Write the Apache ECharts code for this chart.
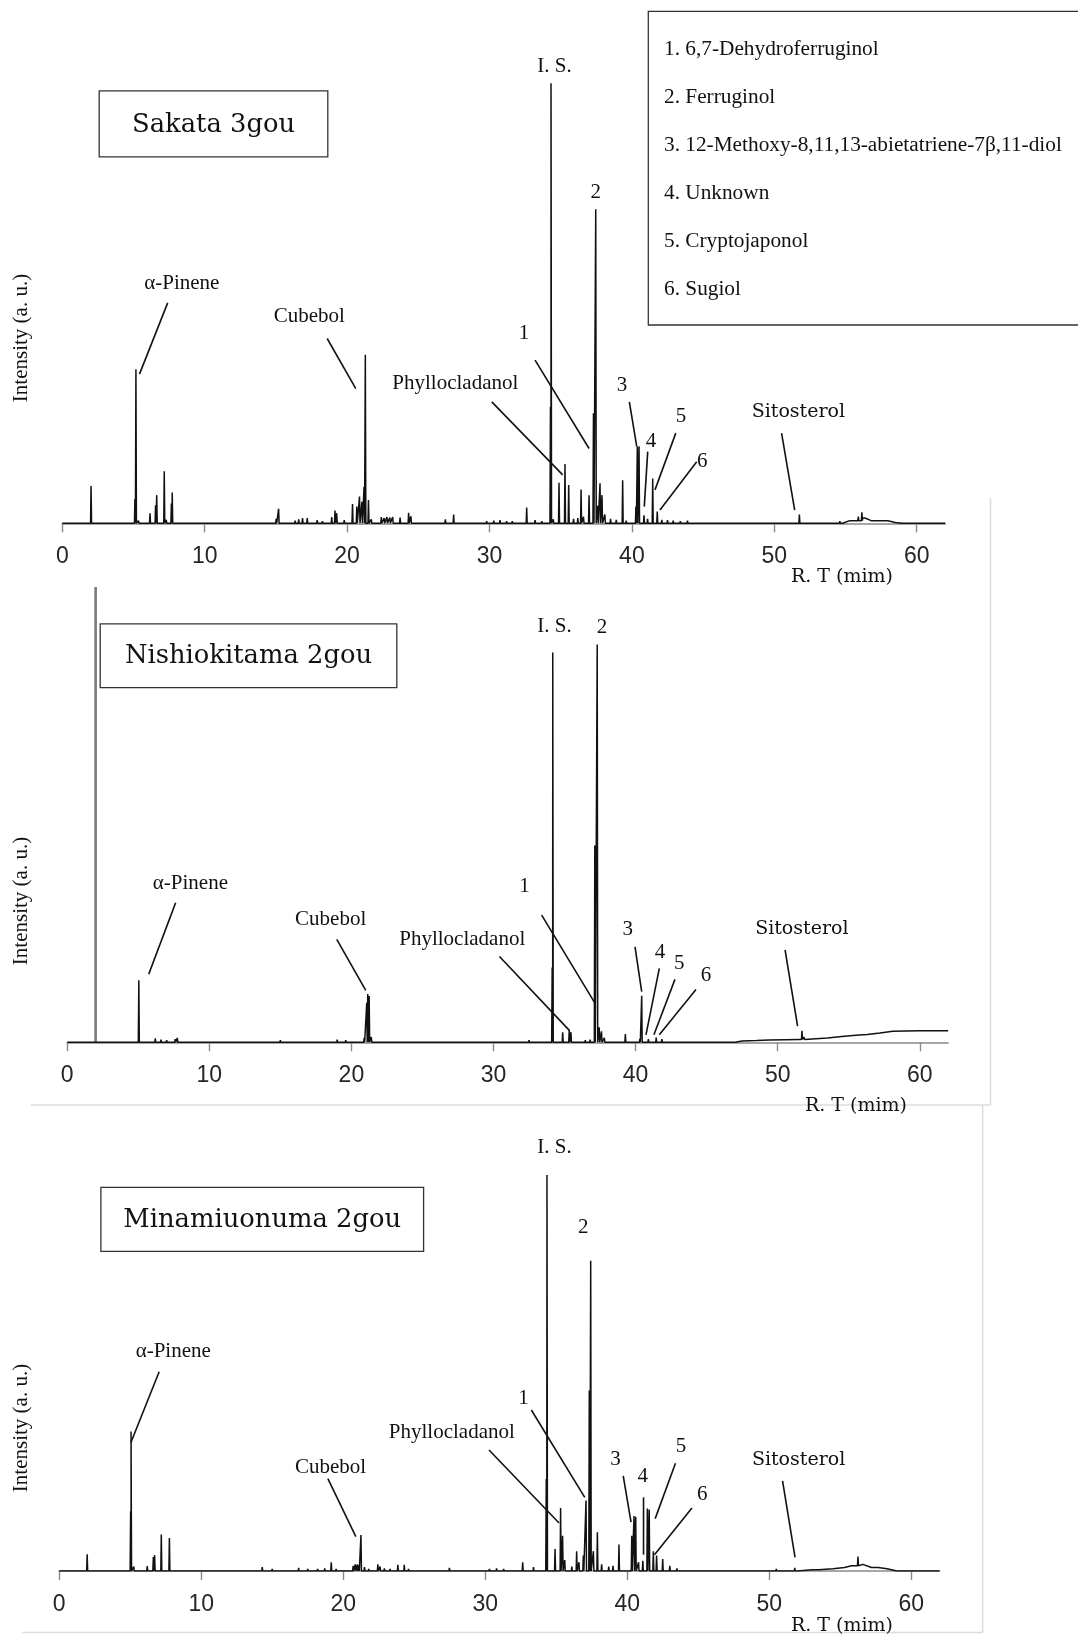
<!DOCTYPE html>
<html>
<head>
<meta charset="utf-8">
<script src="https://cdn.jsdelivr.net/npm/echarts@6/dist/echarts.min.js"></script>
<style>
  html, body { margin: 0; padding: 0; background: #fff; }
  #chart { width: 1078px; height: 1637px; }
</style>
</head>
<body>
<div id="chart"></div>
<script>
// Retention-time axis ticks (min)
const RT_TICKS = [0, 10, 20, 30, 40, 50, 60];

// Sample names and identified compounds
const SAMPLE_NAMES = ['Sakata 3gou', 'Nishiokitama 2gou', 'Minamiuonuma 2gou'];
const COMPOUNDS = [
  '1. 6,7-Dehydroferruginol',
  '2. Ferruginol',
  '3. 12-Methoxy-8,11,13-abietatriene-7\u03b2,11-diol',
  '4. Unknown',
  '5. Cryptojaponol',
  '6. Sugiol'
];

// Sakata 3gou: peaks [retention time (min), intensity (a.u.)]
const SAKATA_PEAKS = [
  [2.02, 8.5], [5.10, 5.5], [5.17, 35.0], [5.35, 0.6], [6.16, 2.3], [6.55, 4.1], [6.63, 6.4],
  [7.16, 11.8], [7.30, 0.8], [7.66, 4.5], [7.72, 7.0], [15.02, 1.0], [15.19, 3.3],
  [16.35, 0.6], [16.6, 0.9], [16.87, 1.2], [17.2, 1.2], [17.9, 0.7], [18.27, 0.5],
  [18.92, 1.4], [19.15, 2.9], [19.27, 2.3], [19.8, 0.7], [20.38, 4.4], [20.68, 3.8],
  [20.87, 6.1], [21.04, 4.9], [21.19, 8.3], [21.28, 38.3], [21.5, 5.3], [21.7, 0.9],
  [22.4, 1.4], [22.6, 1.2], [22.8, 1.4], [23.0, 1.3], [23.2, 1.4], [23.72, 1.3],
  [24.32, 2.4], [24.48, 1.6], [25.6, 0.4], [26.9, 0.9], [27.48, 2.0],
  [29.3, 0.3], [29.8, 0.5], [30.3, 0.6], [30.74, 0.75], [31.2, 0.5], [31.6, 0.5], [32.1, 0.4],
  [32.61, 3.6], [33.2, 0.7], [33.67, 0.5], [34.28, 26.5], [34.32, 100], [34.48, 0.9],
  [34.88, 9.2], [35.3, 13.5], [35.56, 8.7], [35.9, 1.0], [36.2, 1.2], [36.43, 7.7],
  [36.6, 1.5], [36.99, 6.4], [37.30, 25.0], [37.46, 71.4], [37.6, 4.0], [37.76, 9.1],
  [37.9, 6.4], [38.1, 2.0], [38.5, 1.0], [38.9, 0.8], [39.35, 9.8], [39.6, 0.6],
  [40.28, 3.8], [40.38, 17.4], [40.5, 17.5], [40.85, 1.8], [41.1, 1.0], [41.46, 10.2],
  [41.78, 2.7], [42.1, 0.8], [42.5, 0.7], [42.9, 0.6], [43.4, 0.5], [43.9, 0.6],
  [49.2, 0.3], [50.0, 0.4], [50.5, 0.3], [51.76, 2.0], [52.8, 0.3], [53.7, 0.4],
  [54.6, 0.5], [55.9, 1.5], [56.15, 2.5], [56.4, 1.6], [57.3, 0.6], [58.0, 0.4]
];
// Sakata 3gou: baseline level [retention time, intensity]
const SAKATA_BASE = [
  [0, 0], [44.5, 0], [54.8, 0], [55.3, 0.6], [56.2, 1.2], [56.8, 0.6], [58.5, 0.2], [59, 0], [62, 0]
];

// Nishiokitama 2gou: solvent front (off scale) and peaks
const NISHIO_SOLVENT = [2.0, 103.5];
const NISHIO_PEAKS = [
  [5.04, 14.1], [6.2, 0.9], [6.6, 0.6], [7.0, 0.5], [7.6, 0.7], [7.75, 1.0], [15.0, 0.5],
  [19.0, 0.6], [19.6, 0.5], [20.3, 0.4], [20.9, 1.0], [21.08, 9.0], [21.15, 11.0],
  [21.25, 10.5], [21.4, 1.2], [29.3, 0.3], [31.0, 0.4], [32.5, 0.5],
  [34.13, 17.0], [34.17, 88.6], [34.87, 2.3], [35.33, 2.7], [35.45, 2.3], [36.46, 0.5],
  [36.8, 0.6], [37.13, 44.7], [37.3, 90.4], [37.44, 3.4], [37.6, 2.5], [37.8, 1.0],
  [39.28, 1.9], [40.3, 0.8], [40.43, 10.6], [40.9, 0.7], [41.45, 1.1], [41.85, 0.7],
  [51.71, 2.6], [51.85, 1.2]
];
const NISHIO_BASE = [
  [0, 0], [47.0, 0], [47.5, 0.3], [48.5, 0.4], [49.4, 0.5], [50.5, 0.6], [51.5, 0.65],
  [52.0, 0.75], [53.5, 1.0], [54.5, 1.3], [55.5, 1.6], [56.3, 1.8], [57.2, 2.1],
  [58.1, 2.5], [60.0, 2.6], [62.0, 2.65]
];

// Minamiuonuma 2gou
const MINAMI_PEAKS = [
  [1.97, 3.8], [5.03, 13.6], [5.06, 31.7], [5.25, 1.0], [6.2, 1.1], [6.63, 3.2], [6.72, 3.6],
  [7.19, 8.3], [7.76, 7.5], [14.3, 0.9], [15.0, 0.5], [16.5, 0.4], [16.86, 0.7], [17.5, 0.5],
  [18.2, 0.5], [18.7, 0.6], [19.16, 2.0], [19.5, 0.5], [20.7, 1.2], [20.85, 1.5], [21.0, 1.5],
  [21.1, 1.3], [21.25, 8.2], [21.5, 0.9], [21.8, 0.5], [22.44, 1.5], [22.6, 1.0], [22.9, 0.6],
  [23.3, 0.5], [23.85, 1.4], [24.3, 1.4], [24.6, 0.5], [27.48, 0.7], [29.6, 0.4], [30.3, 0.5],
  [30.8, 0.6], [31.3, 0.5], [31.8, 0.4], [32.64, 2.0], [33.4, 0.9], [34.3, 20.9], [34.35, 90.0],
  [34.92, 5.0], [35.31, 14.3], [35.45, 8.0], [35.6, 2.5], [36.1, 1.0], [36.44, 4.5], [36.6, 2.0],
  [36.91, 3.5], [37.1, 16.0], [37.33, 41.0], [37.43, 70.5], [37.62, 4.5], [37.9, 8.8],
  [38.2, 1.5], [38.7, 1.0], [39.0, 1.2], [39.42, 6.0], [40.32, 8.0], [40.48, 12.5],
  [40.6, 12.3], [40.8, 2.0], [41.1, 2.3], [41.42, 14.2], [41.55, 14.0], [41.84, 4.5],
  [42.07, 3.5], [42.5, 2.7], [43.0, 1.2], [43.5, 0.6], [44.3, 0.4], [45.8, 0.3],
  [50.5, 0.5], [51.0, 0.4], [51.8, 0.7], [53.5, 0.6], [56.25, 3.3], [57.7, 1.1]
];
const MINAMI_BASE = [
  [0, 0], [52.0, 0], [53.0, 0.3], [54.5, 0.5], [55.3, 0.8], [55.8, 1.2], [56.6, 1.5],
  [57.2, 0.8], [58.3, 0.5], [59.0, 0], [62.0, 0]
];

// Peak labels [text, rt, intensity] and leader lines [rt1, y1, rt2, y2] per panel
const ANNOTATIONS = [
  {
    labels: [['I. S.', 34.56, 103.9], ['2', 37.46, 75.1], ['1', 32.42, 43.25], ['3', 39.30, 31.3],
             ['4', 41.34, 18.5], ['5', 43.44, 24.2], ['6', 44.94, 14.1], ['Sitosterol', 51.69, 25.2],
             ['\u03b1-Pinene', 8.39, 54.4], ['Cubebol', 17.35, 47.1], ['Phyllocladanol', 27.6, 31.7]],
    leaders: [[7.40, 50.1, 5.42, 33.9], [18.60, 42.0, 20.61, 30.6], [30.16, 27.6, 35.14, 11.0],
              [33.20, 37.1, 36.99, 17.0], [39.82, 27.6, 40.34, 17.4], [41.11, 16.3, 40.87, 3.8],
              [43.08, 20.5, 41.62, 7.6], [44.55, 14.0, 41.97, 3.0], [50.51, 20.5, 51.43, 3.0]]
  },
  {
    labels: [['\u03b1-Pinene', 8.67, 36.2], ['Cubebol', 18.54, 27.8], ['Phyllocladanol', 27.80, 23.4],
             ['1', 32.18, 35.3], ['I. S.', 34.29, 94.6], ['2', 37.63, 94.2], ['3', 39.45, 25.6],
             ['4', 41.72, 20.3], ['5', 43.08, 17.9], ['6', 44.96, 15.1], ['Sitosterol', 51.70, 25.8]],
    leaders: [[7.63, 31.7, 5.74, 15.5], [18.97, 23.4, 21.01, 11.8], [30.42, 19.5, 35.37, 2.6],
              [33.39, 28.9, 37.14, 8.9], [39.96, 21.7, 40.43, 11.5], [41.67, 16.8, 40.73, 1.7],
              [42.77, 14.3, 41.29, 1.7], [44.25, 12.0, 41.67, 1.7], [50.52, 21.0, 51.40, 3.7]]
  },
  {
    labels: [['\u03b1-Pinene', 8.03, 49.8], ['Cubebol', 19.11, 23.6], ['Phyllocladanol', 27.65, 31.5],
             ['1', 32.70, 39.3], ['I. S.', 34.88, 96.3], ['2', 36.91, 78.1], ['3', 39.17, 25.3],
             ['4', 41.10, 21.4], ['5', 43.78, 28.3], ['6', 45.28, 17.5], ['Sitosterol', 52.07, 25.3]],
    leaders: [[7.04, 45.3, 5.05, 29.2], [18.92, 21.0, 20.89, 7.8], [30.27, 27.5, 35.20, 10.9],
              [33.25, 36.6, 37.01, 16.75], [39.72, 21.6, 40.27, 11.1], [41.15, 16.75, 41.15, 3.7],
              [43.40, 24.5, 41.97, 11.9], [44.56, 14.3, 41.92, 3.7], [50.94, 20.5, 51.82, 3.1]]
  }
];

// ---- drawing ----
const SERIF = '"Liberation Serif", "Times New Roman", serif';
const WIDE_SERIF = '"DejaVu Serif", serif';
const PEAK_HALF_WIDTH = 0.035; // min

// Turn a peak list plus baseline into a continuous trace
function buildTrace(peaks, base) {
  const events = [];
  base.forEach(b => events.push({ rt: b[0], kind: 'b', v: b[1] }));
  peaks.forEach(p => events.push({ rt: p[0], kind: 'p', v: p[1] }));
  events.sort((a, b) => a.rt - b.rt || (a.kind === 'b' ? -1 : 1));
  const footAt = rt => {
    let f = 0;
    for (const b of base) { if (b[0] <= rt) f = b[1]; else break; }
    return f;
  };
  const pts = [];
  events.forEach(e => {
    if (e.kind === 'b') { pts.push([e.rt, e.v]); return; }
    const f = footAt(e.rt);
    pts.push([e.rt - PEAK_HALF_WIDTH, f], [e.rt, e.v], [e.rt + PEAK_HALF_WIDTH, f]);
  });
  return pts;
}

const GRIDS = [
  { left: 62.3, right: 132.8, top: 83.3, height: 440, yMax: 100 },
  { left: 67.2, right: 129.8, top: 586.9, height: 455.4, yMax: 103.5 },
  { left: 59.2, right: 138.4, top: 1131, height: 440, yMax: 100 }
];

const traces = [
  buildTrace(SAKATA_PEAKS, SAKATA_BASE),
  buildTrace(NISHIO_PEAKS, NISHIO_BASE),
  buildTrace(MINAMI_PEAKS, MINAMI_BASE)
];

const chart = echarts.init(document.getElementById('chart'), null, { renderer: 'canvas' });

const option = {
  animation: false,
  backgroundColor: '#ffffff',
  grid: GRIDS.map(g => ({ left: g.left, right: g.right, top: g.top, height: g.height, outerBoundsMode: 'none', containLabel: false })),
  xAxis: GRIDS.map((g, i) => ({
    type: 'value', gridIndex: i, min: 0, max: 62, interval: 10,
    splitLine: { show: false },
    axisLine: { show: true, onZero: false, lineStyle: { color: '#8a8a8a', width: 1.6 } },
    axisTick: { show: true, inside: false, length: 9, customValues: RT_TICKS, lineStyle: { color: '#8a8a8a', width: 1.4 } },
    axisLabel: { show: true, customValues: RT_TICKS, margin: 22, fontSize: 23, color: '#262626',
                 fontFamily: '"Liberation Sans", Arial, sans-serif' }
  })),
  yAxis: GRIDS.map((g, i) => ({
    type: 'value', gridIndex: i, min: 0, max: g.yMax, show: false, splitLine: { show: false }
  })),
  series: [
    ...traces.map((t, i) => ({
      type: 'line', xAxisIndex: i, yAxisIndex: i, data: t, showSymbol: false, symbol: 'none',
      sampling: null, clip: true, z: 3,
      lineStyle: { color: '#111111', width: 1.5 }
    })),
    {
      type: 'line', xAxisIndex: 1, yAxisIndex: 1, showSymbol: false, symbol: 'none', clip: true, z: 2,
      data: [[NISHIO_SOLVENT[0], 0], NISHIO_SOLVENT],
      lineStyle: { color: '#7a7a7a', width: 2.6 }
    }
  ]
};
chart.setOption(option);

// ---- annotations, boxes, frames ----
const graphic = [];
const text = (str, x, y, font, size, extra) => graphic.push(Object.assign({
  type: 'text', x: x, y: y, silent: true, z: 10,
  style: { text: str, fill: '#111', font: size + 'px ' + font, textAlign: 'center', textVerticalAlign: 'middle' }
}, extra || {}));
const line = (x1, y1, x2, y2, color, width) => graphic.push({
  type: 'line', silent: true, z: 9,
  shape: { x1: x1, y1: y1, x2: x2, y2: y2 },
  style: { stroke: color, lineWidth: width }
});
const rect = (x, y, w, h) => graphic.push({
  type: 'rect', silent: true, z: 8, shape: { x: x, y: y, width: w, height: h },
  style: { fill: '#fff', stroke: '#333', lineWidth: 1.3 }
});

// light frame lines around the lower two panels
line(990.5, 498, 990.5, 1105, '#dcdcdc', 1.5);
line(31, 1105, 990.5, 1105, '#dcdcdc', 1.5);
line(982.6, 1105, 982.6, 1632.5, '#dcdcdc', 1.5);
line(22, 1632.5, 982.6, 1632.5, '#dcdcdc', 1.5);

// sample title boxes
const TITLE_BOXES = [[99.2, 90.8, 228.6, 66], [100.2, 623.8, 296.6, 63.8], [100.9, 1187.3, 322.7, 64]];
TITLE_BOXES.forEach((b, i) => {
  rect(b[0], b[1], b[2], b[3]);
  text(SAMPLE_NAMES[i], b[0] + b[2] / 2, b[1] + b[3] / 2 + 1, WIDE_SERIF, 25.8);
});

// compound key
rect(648.3, 11.3, 440, 313.7);
COMPOUNDS.forEach((c, i) => {
  text(c, 664, 49 + 48.1 * i, SERIF, 21.3, { style: { text: c, fill: '#111', font: '21.3px ' + SERIF, textAlign: 'left', textVerticalAlign: 'middle' } });
});

// y-axis titles and x-axis titles
[[21, 338], [21, 901], [21, 1428]].forEach(p => {
  text('Intensity (a. u.)', p[0], p[1], SERIF, 21, { rotation: Math.PI / 2 });
});
[[842, 577], [856, 1106], [842, 1626]].forEach(p => text('R. T (mim)', p[0], p[1], WIDE_SERIF, 19));

// peak labels and leader lines, positioned on each panel's axes
ANNOTATIONS.forEach((a, i) => {
  a.labels.forEach(l => {
    const p = chart.convertToPixel({ xAxisIndex: i, yAxisIndex: i }, [l[1], l[2]]);
    const wide = l[0] === 'Sitosterol';
    text(l[0], p[0], p[1], wide ? WIDE_SERIF : SERIF, wide ? 19 : 21);
  });
  a.leaders.forEach(s => {
    const p1 = chart.convertToPixel({ xAxisIndex: i, yAxisIndex: i }, [s[0], s[1]]);
    const p2 = chart.convertToPixel({ xAxisIndex: i, yAxisIndex: i }, [s[2], s[3]]);
    line(p1[0], p1[1], p2[0], p2[1], '#111', 1.6);
  });
});

chart.setOption({ graphic: graphic });
</script>
</body>
</html>
